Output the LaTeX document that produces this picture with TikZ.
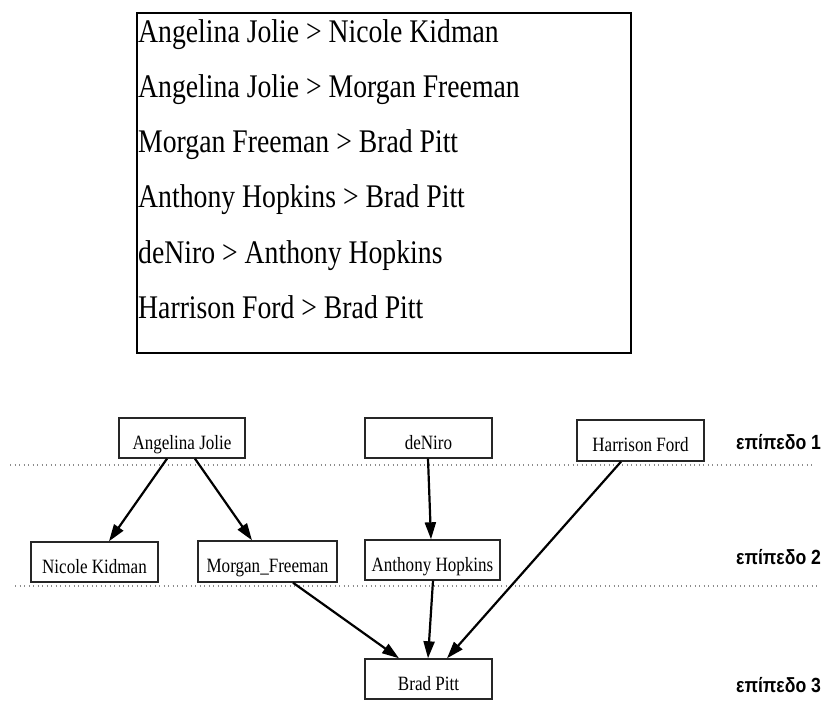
\documentclass[tikz,border=0pt]{standalone}
\usepackage{fontspec}
\setmainfont{Liberation Serif}
\newfontfamily\narrowserif[FakeStretch=0.84]{Liberation Serif}
\newfontfamily\levelfont[FakeStretch=0.86]{Liberation Sans}
\usetikzlibrary{arrows.meta}
\begin{document}
\begin{tikzpicture}[x=1pt,y=-1pt,
  rule/.style={anchor=base west, inner sep=0pt, font=\narrowserif\fontsize{33}{40}\selectfont},
  frame/.style={draw=black, line width=2pt, inner sep=0pt, anchor=north west},
  actor/.style={draw=black!85, line width=1.4pt, inner sep=0pt, minimum height=40,
    text height=22pt, text depth=0pt, font=\narrowserif\fontsize{20.3}{24}\selectfont},
  edge/.style={line width=2.2pt, -{Triangle[length=17pt,width=11pt]}},
  level/.style={anchor=west, inner sep=0pt, font=\levelfont\bfseries\fontsize{20.5}{24}\selectfont},
  divider/.style={black!45, line width=1.2pt, dash pattern=on 1.2pt off 3.3pt}]
\useasboundingbox (0,0) rectangle (828,704);

% list of preferences
\node[frame, minimum width=494, minimum height=340] (list) at (136,12) {};
\node[rule] (r1) at (138,42)  {Angelina Jolie > Nicole Kidman};
\node[rule] (r2) at (138,97)  {Angelina Jolie > Morgan Freeman};
\node[rule] (r3) at (138,152) {Morgan Freeman > Brad Pitt};
\node[rule] (r4) at (138,207) {Anthony Hopkins > Brad Pitt};
\node[rule] (r5) at (138,263) {deNiro > Anthony Hopkins};
\node[rule] (r6) at (138,318) {Harrison Ford > Brad Pitt};

% level separators
\coordinate (d1a) at (10,465);  \coordinate (d1b) at (815,465);
\coordinate (d2a) at (15,586);  \coordinate (d2b) at (820,586);
\draw[divider] (d1a) -- (d1b);
\draw[divider] (d2a) -- (d2b);

% graph nodes
\node[actor, minimum width=126] (aj) at (182,438)   {Angelina Jolie};
\node[actor, minimum width=127] (dn) at (428.5,438) {deNiro};
\node[actor, minimum width=127, minimum height=41] (hf) at (640.5,440.5) {Harrison Ford};
\node[actor, minimum width=127] (nk) at (94.5,562)  {Nicole Kidman};
\node[actor, minimum width=139, minimum height=41] (mf) at (267.5,561.5) {Morgan\_Freeman};
\node[actor, minimum width=135] (ah) at (432.5,560) {Anthony Hopkins};
\node[actor, minimum width=127] (bp) at (428.5,679) {Brad Pitt};

% edges
\draw[edge] ([xshift=-15]aj.south) -- ([xshift=14.5]nk.north);
\draw[edge] ([xshift=13]aj.south) -- ([xshift=-15.5]mf.north);
\draw[edge] ([xshift=-0.5]dn.south) -- ([xshift=-1.5]ah.north);
\draw[edge] ([xshift=-19.5]hf.south) -- ([xshift=18.5]bp.north);
\draw[edge] ([xshift=25.5]mf.south) -- ([xshift=-29.5]bp.north);
\draw[edge] ([xshift=0.5]ah.south) -- ([xshift=-0.5]bp.north);

% level labels
\node[level] (l1) at (736,442) {επίπεδο 1};
\node[level] (l2) at (736,557) {επίπεδο 2};
\node[level] (l3) at (736,685) {επίπεδο 3};
\end{tikzpicture}
\end{document}
